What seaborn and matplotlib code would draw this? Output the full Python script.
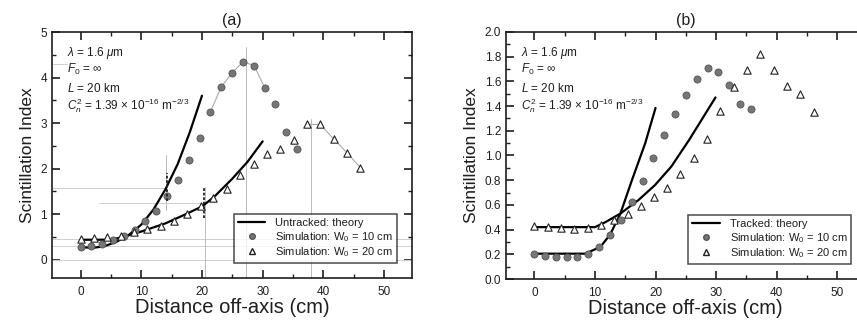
import numpy as np
import pandas as pd
import matplotlib
matplotlib.use("Agg")
import matplotlib.pyplot as plt
import seaborn as sns
from matplotlib.lines import Line2D
from matplotlib.ticker import MultipleLocator, FormatStrFormatter

# ---------------- data ----------------
# Panel (a) – untracked
xa10 = [0, 1.8, 3.6, 5.4, 7.1, 8.9, 10.7, 12.5, 14.3, 16.1, 17.9, 19.6, 21.4, 23.2, 25.0, 26.8, 28.6, 30.4, 32.1, 33.9, 35.7]
ya10 = [0.29, 0.30, 0.35, 0.43, 0.53, 0.66, 0.85, 1.08, 1.39, 1.76, 2.18, 2.68, 3.25, 3.80, 4.11, 4.35, 4.26, 3.76, 3.41, 2.80, 2.44]
xa20 = [0, 2.2, 4.4, 6.6, 8.8, 11.0, 13.2, 15.4, 17.6, 19.8, 21.9, 24.1, 26.3, 28.5, 30.7, 32.9, 35.1, 37.3, 39.5, 41.7, 43.9, 46.1]
ya20 = [0.45, 0.47, 0.49, 0.53, 0.60, 0.67, 0.75, 0.86, 1.00, 1.17, 1.36, 1.56, 1.86, 2.10, 2.33, 2.44, 2.62, 2.97, 2.97, 2.65, 2.35, 2.02]
xa_th10 = [0, 2, 4, 6, 8, 10, 12, 14, 16, 18, 20]
ya_th10 = [0.28, 0.26, 0.30, 0.40, 0.55, 0.77, 1.10, 1.55, 2.10, 2.80, 3.60]
xa_th20 = [0, 5, 7, 10, 14, 17, 20, 22, 25, 27.5, 30]
ya_th20 = [0.44, 0.44, 0.50, 0.62, 0.80, 0.98, 1.17, 1.38, 1.78, 2.15, 2.60]

# Panel (b) – tracked
xb10 = [0, 1.8, 3.6, 5.4, 7.1, 8.9, 10.7, 12.5, 14.3, 16.1, 17.9, 19.6, 21.4, 23.2, 25.0, 26.8, 28.6, 30.4, 32.1, 33.9, 35.7]
yb10 = [0.20, 0.19, 0.18, 0.175, 0.18, 0.20, 0.26, 0.36, 0.48, 0.62, 0.79, 0.98, 1.17, 1.34, 1.49, 1.62, 1.71, 1.68, 1.57, 1.42, 1.38]
xb20 = [0, 2.2, 4.4, 6.6, 8.8, 11.0, 13.2, 15.4, 17.6, 19.8, 21.9, 24.1, 26.3, 28.5, 30.7, 32.9, 35.1, 37.3, 39.5, 41.7, 43.9, 46.1]
yb20 = [0.43, 0.42, 0.41, 0.405, 0.41, 0.435, 0.48, 0.53, 0.59, 0.66, 0.74, 0.85, 0.98, 1.13, 1.36, 1.555, 1.69, 1.82, 1.69, 1.565, 1.50, 1.35]
xb_th10 = [0, 8.4, 10.9, 12.5, 14.2, 16.1, 18.3, 20]
yb_th10 = [0.205, 0.205, 0.26, 0.36, 0.53, 0.80, 1.10, 1.385]
xb_th20 = [0, 10, 11.7, 14.2, 17.2, 19.9, 22.6, 25.6, 29.9]
yb_th20 = [0.42, 0.42, 0.46, 0.53, 0.64, 0.76, 0.91, 1.13, 1.47]

panel_titles = ["(a)", "(b)"]
theory_labels = ["Untracked: theory", "Tracked: theory"]
sim_labels = ["Simulation: W$_0$ = 10 cm", "Simulation: W$_0$ = 20 cm"]
param_lines = [r"$\lambda$ = 1.6 $\mu$m", r"$F_0$ = $\infty$", r"$L$ = 20 km",
               r"$C_n^{2}$ = 1.39 $\times$ 10$^{-16}$ m$^{-2/3}$"]
xlabel = "Distance off-axis (cm)"
ylabel = "Scintillation Index"

# ---------------- style ----------------
sns.set_style("ticks")
plt.rcParams["font.family"] = ["Liberation Sans", "DejaVu Sans"]
plt.rcParams["mathtext.fontset"] = "custom"
plt.rcParams["mathtext.rm"] = "Liberation Sans"
plt.rcParams["mathtext.it"] = "Liberation Sans:italic"
plt.rcParams["mathtext.bf"] = "Liberation Sans:bold"

fig = plt.figure(figsize=(8.57, 3.24), dpi=100)
axA = fig.add_axes([52/857, 1-278/324, 360/857, 246/324])
axB = fig.add_axes([506/857, 1-279/324, 359/857, 247/324])

faint = "#cfcfcf"
dot_c = "#767676"
ink = "#1e1e1e"


def draw(ax, x10, y10, x20, y20, xt10, yt10, xt20, yt20, ylim, ymaj, ymin, fmt, title):
    d10 = pd.DataFrame({"x": x10, "y": y10})
    d20 = pd.DataFrame({"x": x20, "y": y20})
    sns.lineplot(data=pd.DataFrame({"x": xt10, "y": yt10}), x="x", y="y", ax=ax,
                 color="black", lw=1.6, sort=False, zorder=4)
    sns.lineplot(data=pd.DataFrame({"x": xt20, "y": yt20}), x="x", y="y", ax=ax,
                 color="black", lw=1.6, sort=False, zorder=4)
    sns.scatterplot(data=d10, x="x", y="y", ax=ax, marker="o", s=26,
                    color=dot_c, edgecolor="#555555", linewidth=0.6, zorder=5)
    sns.scatterplot(data=d20, x="x", y="y", ax=ax, marker="^", s=28,
                    facecolor="white", edgecolor="#222222", linewidth=0.8, zorder=5)
    ax.set_xlim(-4.7, 54.6)
    ax.set_ylim(*ylim)
    ax.xaxis.set_major_locator(MultipleLocator(10))
    ax.xaxis.set_minor_locator(MultipleLocator(5))
    ax.yaxis.set_major_locator(MultipleLocator(ymaj))
    ax.yaxis.set_minor_locator(MultipleLocator(ymin))
    ax.yaxis.set_major_formatter(FormatStrFormatter(fmt))
    ax.tick_params(which="both", direction="in", top=True, right=True,
                   bottom=True, left=True, labelsize=8.5, colors=ink)
    ax.tick_params(which="major", length=6, width=1.2)
    ax.tick_params(which="minor", length=3, width=1.0)
    ax.tick_params(axis="x", which="major", pad=6)
    ax.tick_params(axis="y", which="major", pad=3.5)
    for s in ax.spines.values():
        s.set_linewidth(1.2)
        s.set_color(ink)
    ax.set_xlabel(xlabel, fontsize=14.5, labelpad=0, color=ink)
    ax.set_ylabel(ylabel, fontsize=12.5, labelpad=4, color=ink)
    ax.set_title(title, fontsize=11.5, pad=5, color=ink)
    ypos = [0.915, 0.848, 0.772, 0.70]
    for t, yp in zip(param_lines, ypos):
        ax.text(0.042, yp, t, transform=ax.transAxes, fontsize=8.5,
                color=ink, va="center", ha="left")
    handles = [Line2D([], [], color="black", lw=1.6),
               Line2D([], [], ls="", marker="o", ms=4, color=dot_c, mec="#555555"),
               Line2D([], [], ls="", marker="^", ms=4.5, mfc="white", mec="#222222")]
    return handles


hA = draw(axA, xa10, ya10, xa20, ya20, xa_th10, ya_th10, xa_th20, ya_th20,
          (-0.4, 5), 1, 0.5, "%d", panel_titles[0])
hB = draw(axB, xb10, yb10, xb20, yb20, xb_th10, yb_th10, xb_th20, yb_th20,
          (0, 2), 0.2, 0.1, "%.1f", panel_titles[1])

# faint guide lines and peak connectors in panel (a)
for yv in [0.0, 0.3, 0.45]:
    axA.axhline(yv, color=faint, lw=0.7, zorder=1)
axA.plot([-4.7, 14.1], [1.57, 1.57], color=faint, lw=0.7, zorder=1)
axA.plot([3.0, 20.5], [1.25, 1.25], color=faint, lw=0.7, zorder=1)
axA.plot([-4.7, -2.3], [4.3, 4.3], color=faint, lw=0.7, zorder=1)
axA.plot([27.2, 27.2], [-0.4, 4.68], color="#bbbbbb", lw=0.7, zorder=1)
axA.plot([38.0, 38.0], [-0.4, 3.1], color="#bbbbbb", lw=0.7, zorder=1)
axA.plot([20.5, 20.5], [-0.4, 1.6], color="#bbbbbb", lw=0.7, zorder=1)
axA.plot([14.1, 14.1], [1.1, 2.3], color="#bbbbbb", lw=0.7, zorder=1)
axA.plot(xa10[12:18], ya10[12:18], color="#aaaaaa", lw=0.8, zorder=2)
axA.plot(xa20[17:22], ya20[17:22], color="#aaaaaa", lw=0.8, zorder=2)
axA.plot([14.2, 14.2], [1.3, 1.9], color="#222222", lw=1.3, ls=(0, (1.5, 1)), zorder=6)
axA.plot([20.3, 20.3], [0.92, 1.57], color="#222222", lw=1.3, ls=(0, (1.5, 1)), zorder=6)

for ax, h, tl, anchor in [(axA, hA, theory_labels[0], (0.958, 0.061)),
                          (axB, hB, theory_labels[1], (0.961, 0.061))]:
    leg = ax.legend(h, [tl] + sim_labels, loc="lower right", bbox_to_anchor=anchor,
                    fontsize=8, frameon=True, fancybox=False, edgecolor=ink,
                    handlelength=2.5, borderpad=0.35, labelspacing=0.15,
                    handletextpad=0.9, borderaxespad=0)
    leg.get_frame().set_linewidth(1.1)
    for t in leg.get_texts():
        t.set_color(ink)

fig.savefig("out.png", dpi=100, facecolor="white")
